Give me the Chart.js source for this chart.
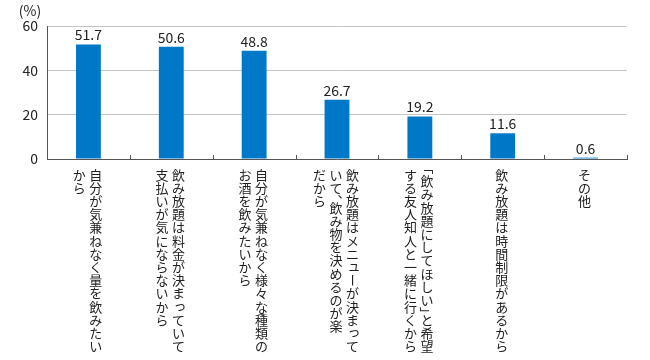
<!DOCTYPE html>
<html>
<head>
<meta charset="utf-8">
<script src="https://cdn.jsdelivr.net/npm/chart.js@4.4.1/dist/chart.umd.min.js"></script>
<style>
html,body{margin:0;padding:0;background:#fff;}
#wrap{width:650px;height:360px;}
</style>
</head>
<body>
<div id="wrap"><canvas id="reasonChart" width="650" height="360"></canvas></div>
<script>
// =============================
// 飲み放題を利用する理由
// =============================

// 各項目の縦書きラベル(右の列から順に)
const labelColumns = [
["自分が気兼ねなく量を飲みたい","から"],
["飲み放題は料金が決まっていて","支払いが気にならないから"],
["自分が気兼ねなく様々な種類の","お酒を飲みたいから"],
["飲み放題はメニューが決まって","いて、飲み物を決めるのが楽","だから"],
["「飲み放題にしてほしい」と希望","する友人知人と一緒に行くから"],
["飲み放題は時間制限があるから"],
["その他"]
];

const values = [51.7,50.6,48.8,26.7,19.2,11.6,0.6];

const yMin = 0;
const yMax = 60;
const yStep = 20;
const unitLabel = "(%)";

const FONT = "'Noto Sans CJK JP','Noto Sans',sans-serif";
const TEXT = "#222";

// 縦書き用の文字処理
const rotateChars = "「」ー";
const halfChars = "「」、";
const smallKana = "ぁぃぅぇぉっゃゅょァィゥェォッャュョ";

function drawVertical(ctx,str,cx,top,step){

let y = top;

for(const ch of str){

const h = halfChars.includes(ch) ? step/2 : step;

ctx.save();

if(ch==="「"){
ctx.translate(cx,y);
ctx.rotate(Math.PI/2);
ctx.fillText(ch,0,0);
}else if(ch==="」"){
ctx.translate(cx,y+step/2);
ctx.rotate(Math.PI/2);
ctx.fillText(ch,0,0);
}else if(ch==="、"){
ctx.fillText(ch,cx+step*0.6,y+h/2-step*0.45);
}else if(rotateChars.includes(ch)){
ctx.translate(cx,y+h/2);
ctx.rotate(Math.PI/2);
ctx.fillText(ch,0,0);
}else if(smallKana.includes(ch)){
ctx.fillText(ch,cx+1.5,y+h/2-1.5);
}else{
ctx.fillText(ch,cx,y+h/2);
}

ctx.restore();

y += h;

}

}

const extraDraw = {

id:"extraDraw",

afterDraw(chart){

const ctx = chart.ctx;
const xs = chart.scales.x;
const meta = chart.getDatasetMeta(0);

ctx.save();

// 単位
ctx.fillStyle = TEXT;
ctx.font = "14px "+FONT;
ctx.textAlign = "center";
ctx.textBaseline = "middle";
ctx.fillText(unitLabel,30,11);

// 数値ラベル
ctx.font = "14px "+FONT;
ctx.textBaseline = "alphabetic";
meta.data.forEach((bar,i)=>{
ctx.fillText(values[i].toFixed(1),bar.x,bar.y-4);
});

// 目盛り(項目の区切り)
ctx.strokeStyle = "#555";
ctx.lineWidth = 1;
const n = values.length;
for(let i=1;i<=n;i++){
const x = Math.round(xs.left + i*xs.width/n)+0.5;
ctx.beginPath();
ctx.moveTo(x,xs.top-4);
ctx.lineTo(x,xs.top);
ctx.stroke();
}

// 縦書きラベル
ctx.font = "13px "+FONT;
ctx.textAlign = "center";
ctx.textBaseline = "middle";
const colGap = 16.5;
const step = 13.2;
labelColumns.forEach((cols,i)=>{
const c = xs.getPixelForValue(i) - 1;
cols.forEach((col,k)=>{
const cx = c + (cols.length-1)/2*colGap - k*colGap;
drawVertical(ctx,col,cx,xs.top+9,step);
});
});

ctx.restore();

}

};

const canvas = document.getElementById("reasonChart");
const ctx = canvas.getContext("2d");

new Chart(ctx,{

type:"bar",

data:{
labels:labelColumns.map(c=>c.join("")),
datasets:[{
data:values,
backgroundColor:"#0078C8",
borderWidth:0,
categoryPercentage:1,
barPercentage:0.3
}]
},

options:{

responsive:false,
animation:false,
events:[],

layout:{
padding:{left:0,right:23,top:26,bottom:193}
},

plugins:{
legend:{display:false},
tooltip:{enabled:false}
},

scales:{

x:{
grid:{display:false},
border:{color:"#555",width:1},
ticks:{display:false}
},

y:{
min:yMin,
max:yMax,
ticks:{
stepSize:yStep,
padding:9,
color:TEXT,
font:{size:14,family:FONT}
},
grid:{
color:c=>c.tick.value===0?"rgba(0,0,0,0)":"#c4c4c4",
drawTicks:false
},
border:{color:"#555",width:1},
afterFit(scale){
scale.width = 47;
}
}

}

},

plugins:[extraDraw]

});
</script>
</body>
</html>
